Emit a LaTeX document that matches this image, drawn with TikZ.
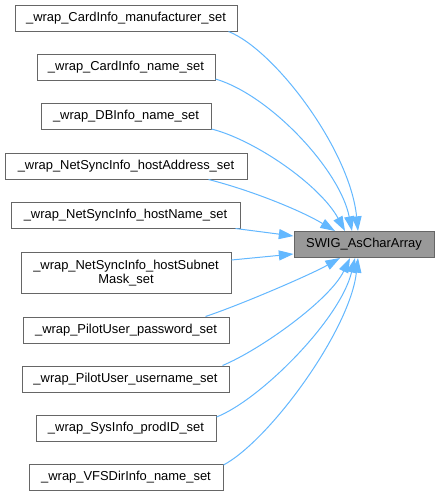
\documentclass[tikz,border=0pt]{standalone}
\usepackage{fontspec}
\setmainfont{Liberation Sans}
\usetikzlibrary{arrows.meta,calc}
\definecolor{edgeblue}{HTML}{63B8FF}
\definecolor{boxborder}{HTML}{666666}
\definecolor{swigfill}{HTML}{999999}
\begin{document}
\begin{tikzpicture}[x=0.75pt,y=-0.75pt,
  fn/.style={draw=boxborder, fill=white, line width=0.75pt, inner sep=0pt,
    minimum height=19.5pt, font=\fontsize{9.7}{10.5}\selectfont, align=center},
  cn/.style={fn, fill=swigfill},
  call/.style={draw=edgeblue, line width=0.75pt, -{Triangle[length=11pt,width=7.5pt]}}]
\useasboundingbox (0,0) rectangle (439,496);
\fill[white] (0,0) rectangle (439,496);
\node[fn, minimum width=166.5pt] (man) at (126,18) {\_wrap\_CardInfo\_manufacturer\_set};
\node[fn, minimum width=133.5pt] (cin) at (126,67.5) {\_wrap\_CardInfo\_name\_set};
\node[fn, minimum width=127.5pt] (dbi) at (126,116.5) {\_wrap\_DBInfo\_name\_set};
\node[fn, minimum width=181.5pt] (hadr) at (126,166) {\_wrap\_NetSyncInfo\_hostAddress\_set};
\node[fn, minimum width=171.75pt] (hnm) at (125.5,215) {\_wrap\_NetSyncInfo\_hostName\_set};
\node[fn, minimum width=157.5pt, minimum height=30.75pt] (hsub) at (126,273) {\_wrap\_NetSyncInfo\_hostSubnet\\Mask\_set};
\node[fn, minimum width=154.5pt] (pw) at (126,330) {\_wrap\_PilotUser\_password\_set};
\node[fn, minimum width=155.25pt] (un) at (125.5,379) {\_wrap\_PilotUser\_username\_set};
\node[fn, minimum width=135pt] (pid) at (126,428.5) {\_wrap\_SysInfo\_prodID\_set};
\node[fn, minimum width=145.5pt] (vfs) at (126,477.5) {\_wrap\_VFSDirInfo\_name\_set};
\node[cn, minimum width=105pt] (swig) at (364,244.5) {SWIG\_AsCharArray};

\draw[call] ($(man.south east)+(-9,0)$) .. controls (275,50) and (350,150) .. ($(swig.north)+(-6,0)$);
\draw[call] ($(cin.south east)+(0,-2)$) .. controls (270,95) and (340,170) .. ($(swig.north)+(-12,0)$);
\draw[call] ($(dbi.south east)+(0,-1)$) .. controls (255,140) and (320,185) .. ($(swig.north)+(-19,0)$);
\draw[call] ($(hadr.south east)+(-39,0)$) .. controls (250,190) and (300,210) .. ($(swig.north)+(-29,0)$);
\draw[call] ($(hnm.south east)+(-5,0)$) -- ($(swig.west)+(0,-8.5)$);
\draw[call] ($(hsub.east)+(0,-13)$) -- ($(swig.west)+(0,9.5)$);
\draw[call] ($(pw.north east)+(-24,0)$) .. controls (240,305) and (310,275) .. ($(swig.south)+(-24,0)$);
\draw[call] ($(un.north east)+(-7,0)$) .. controls (260,350) and (330,300) .. ($(swig.south)+(-14,0)$);
\draw[call] ($(pid.north east)+(0,2)$) .. controls (260,400) and (340,320) .. ($(swig.south)+(-9,0)$);
\draw[call] ($(vfs.north east)+(0,1)$) .. controls (270,440) and (350,330) .. ($(swig.south)+(-6,0)$);
\end{tikzpicture}
\end{document}
